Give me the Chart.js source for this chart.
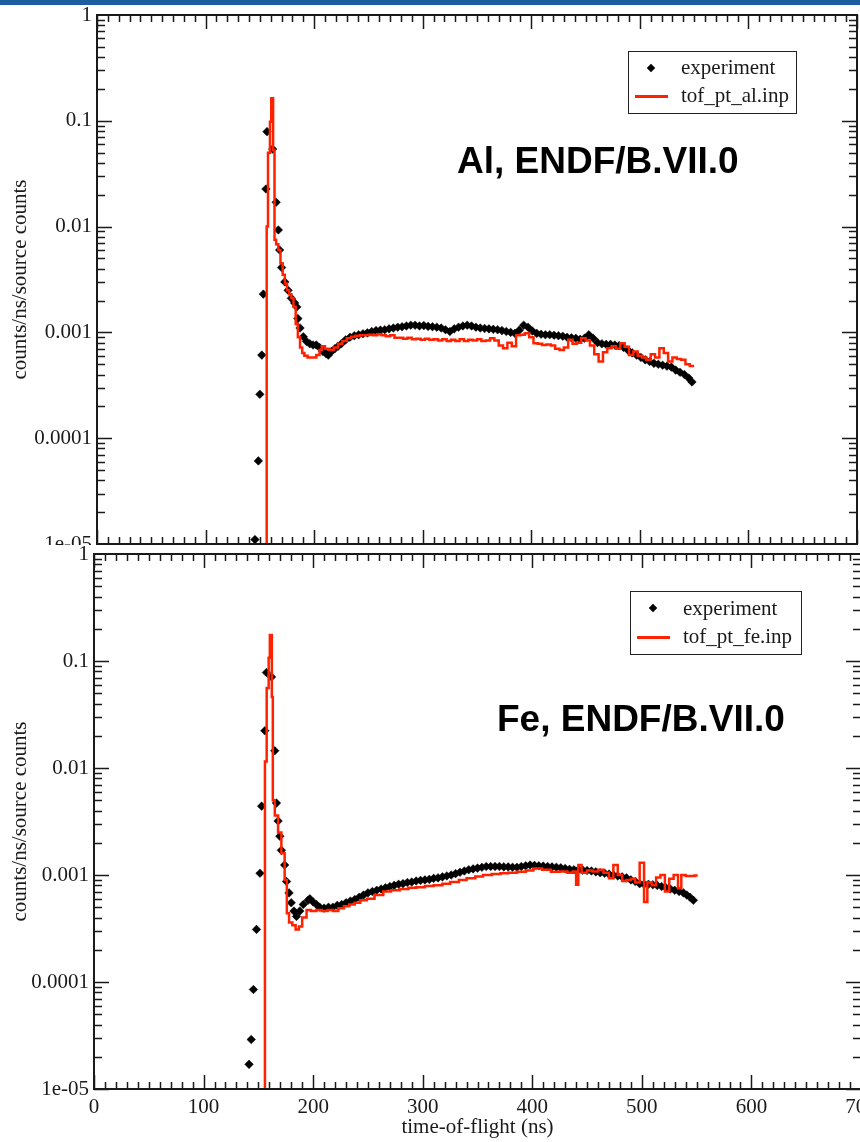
<!DOCTYPE html>
<html>
<head>
<meta charset="utf-8">
<script src="https://cdn.jsdelivr.net/npm/chart.js@4.4.0/dist/chart.umd.min.js"></script>
<style>
  body { margin: 0; width: 860px; height: 1142px; overflow: hidden; background: #fff; position: relative; }
  canvas { position: absolute; left: 0; }
  #c1 { top: 0; }
  #c2 { top: 545px; background: #fff; }
  .bar { position: absolute; left: 0; top: 0; width: 860px; height: 5px; background: #1a5e9e; z-index: 5; }
  .box { position: absolute; border: 1.5px solid #222; box-sizing: border-box; z-index: 5; }
  .txt { position: absolute; font: 21px/21px "Liberation Serif", "DejaVu Serif", serif; color: #1a1a1a; white-space: nowrap; z-index: 6; }
  .dia { position: absolute; width: 6px; height: 6px; background: #000; transform: rotate(45deg); z-index: 6; }
  .red { position: absolute; width: 33px; height: 2.5px; background: #ff2200; z-index: 6; }
  .note { position: absolute; font: bold 37px/37px "Liberation Sans", Arial, sans-serif; color: #000; white-space: nowrap; z-index: 6; }
</style>
</head>
<body>
<div class="bar"></div>
<canvas id="c1" width="860" height="560"></canvas>
<canvas id="c2" width="870" height="597"></canvas>

<div class="box" style="left:628px;top:51px;width:169px;height:63px"></div>
<div class="dia" style="left:648px;top:65px"></div>
<div class="txt" style="left:681px;top:57px">experiment</div>
<div class="red" style="left:635px;top:95px"></div>
<div class="txt" style="left:681px;top:85px">tof_pt_al.inp</div>
<div class="note" style="left:457px;top:142px">Al, ENDF/B.VII.0</div>

<div class="box" style="left:630px;top:591px;width:172px;height:64px"></div>
<div class="dia" style="left:650px;top:605px"></div>
<div class="txt" style="left:683px;top:598px">experiment</div>
<div class="red" style="left:637px;top:636px"></div>
<div class="txt" style="left:683px;top:626px">tof_pt_fe.inp</div>
<div class="note" style="left:497px;top:700px">Fe, ENDF/B.VII.0</div>

<script>
// axis ticks
const xTicks = [0, 100, 200, 300, 400, 500, 600, 700];
const yTicks = [1e-5, 1e-4, 1e-3, 1e-2, 1e-1, 1];
const yTickLabels = ['1e-05', '0.0001', '0.001', '0.01', '0.1', '1'];

// Al: measured [tof ns, counts/ns/source]
const alExp = [
  [145.5,1.1e-5],[148.6,6.1e-5],[150,2.6e-4],[151.8,6.1e-4],[153.2,2.3e-3],[155.6,0.0227],[156.6,0.079],
  [161.8,0.054],[165,0.017],[167,0.0093],[168.2,0.006],[170,0.0041],[173,0.003],[176,0.0025],[179,0.0021],
  [182,0.0019],[184,0.00174],[185,0.00135],[187,0.0011],[190,0.00091],[193,0.00082],[196,0.00078],[199,0.00076],
  [202,0.00076],[205,0.00072],[208,0.00066],[211,0.00063],[213,0.00061],[216,0.00066],[219,0.0007],[222,0.00074],
  [225,0.00078],[229,0.00085],[233,0.0009],[237,0.00093],[241,0.00095],[245,0.00097],[249,0.00099],[253,0.00102],
  [257,0.00104],[261,0.00105],[265,0.00106],[269,0.00108],[273,0.0011],[277,0.00112],[281,0.00113],[285,0.00115],
  [289,0.00117],[293,0.00117],[297,0.00115],[301,0.00116],[305,0.00114],[309,0.00113],[313,0.00112],[317,0.0011],
  [321,0.00106],[325,0.00102],[329,0.00108],[333,0.00112],[337,0.00115],[341,0.00117],[345,0.00115],[349,0.00112],
  [353,0.0011],[357,0.00109],[361,0.00108],[365,0.00107],[369,0.00106],[373,0.00104],[377,0.00102],[381,0.001],
  [385,0.00098],[389,0.00105],[393,0.00117],[397,0.00112],[401,0.00103],[405,0.00098],[409,0.00096],[413,0.00095],
  [417,0.00095],[421,0.00094],[425,0.00093],[429,0.00092],[433,0.0009],[437,0.00089],[441,0.00088],[445,0.00086],
  [449,0.00088],[453,0.00095],[457,0.00088],[461,0.0008],[465,0.00078],[469,0.00077],[473,0.00077],[477,0.00076],
  [481,0.00075],[485,0.00072],[489,0.00068],[493,0.00064],[497,0.00061],[501,0.00058],[505,0.00055],[509,0.00053],
  [513,0.00051],[517,0.0005],[521,0.00049],[525,0.00048],[529,0.00047],[533,0.00044],[537,0.00042],[541,0.0004],
  [545,0.00037],[548,0.00034]
];
// Al: tof_pt_al.inp histogram (bin start, value)
const alMod = [
  [156.1,1e-8],[156.3,0.01],[157.5,0.05],[159.3,0.098],[160.5,0.163],[162.2,0.053],[163.5,0.0075],[165,0.0068],
  [167,0.006],[169,0.0045],[171,0.0035],[173,0.0029],[175,0.0025],[177,0.0023],[179,0.0021],[181,0.00175],
  [183,0.0012],[185,0.0009],[187,0.00072],[189,0.00064],[191,0.0006],[194,0.00058],[198,0.00058],[202,0.00061],
  [205,0.00068],[207,0.00074],[210,0.0007],[214,0.00068],[218,0.00072],[222,0.00078],[226,0.00083],[230,0.00088],
  [234,0.00091],[238,0.00093],[242,0.00094],[246,0.00094],[250,0.00095],[254,0.00094],[258,0.00096],[262,0.00094],
  [266,0.00092],[270,0.00094],[274,0.00089],[278,0.00089],[282,0.00087],[286,0.00089],[290,0.00086],[294,0.00087],
  [298,0.00085],[302,0.00087],[306,0.00085],[310,0.00086],[314,0.00084],[318,0.00086],[322,0.00083],[326,0.00085],
  [330,0.00083],[334,0.00086],[338,0.00083],[342,0.00085],[346,0.00084],[350,0.00086],[354,0.00083],[358,0.00084],
  [362,0.00088],[366,0.00084],[370,0.00075],[374,0.00071],[378,0.0008],[382,0.00074],[386,0.00094],[390,0.00095],
  [394,0.00098],[398,0.0009],[402,0.00079],[406,0.00078],[410,0.00076],[414,0.00077],[418,0.00075],[422,0.0007],
  [426,0.00068],[430,0.00072],[434,0.00085],[438,0.00078],[442,0.0008],[446,0.00088],[450,0.00084],[454,0.00075],
  [458,0.00062],[462,0.00053],[466,0.00065],[470,0.00071],[474,0.00074],[478,0.0007],[482,0.00079],[486,0.00073],
  [490,0.00061],[494,0.00066],[498,0.0006],[502,0.00058],[506,0.00055],[510,0.00062],[514,0.00058],[518,0.00071],
  [522,0.00064],[526,0.00053],[530,0.00058],[534,0.00056],[538,0.00055],[542,0.0005],[546,0.00048],[550,0.00048]
];
// Fe: measured
const feExp = [
  [141.5,1.7e-5],[143.5,2.9e-5],[145.5,8.5e-5],[148.3,3.1e-4],[151.5,1.04e-3],[153,4.4e-3],[155.9,0.0223],
  [157.4,0.078],[162,0.071],[165,0.0145],[166.5,0.0047],[168,0.0032],[169.6,0.0023],[171,0.0017],[174,0.00124],
  [175.7,0.00087],[178,0.00068],[180,0.00055],[182.5,0.00046],[184.8,0.00041],[187.8,0.00046],[191,0.00053],
  [195.4,0.00058],[197,0.0006],[200,0.00056],[203,0.00053],[206,0.0005],[210,0.00049],[214,0.0005],[218,0.0005],
  [222,0.00052],[226,0.00053],[230,0.00055],[234,0.00057],[238,0.00059],[242,0.00062],[246,0.00065],[250,0.00068],
  [254,0.0007],[258,0.00072],[262,0.00074],[266,0.00076],[270,0.00078],[274,0.0008],[278,0.00082],[282,0.00083],
  [286,0.00085],[290,0.00086],[294,0.00088],[298,0.00089],[302,0.0009],[306,0.00091],[310,0.00093],[314,0.00094],
  [318,0.00096],[322,0.00098],[326,0.001],[330,0.00103],[334,0.00106],[338,0.00109],[342,0.00112],[346,0.00114],
  [350,0.00116],[354,0.00118],[358,0.0012],[362,0.0012],[366,0.0012],[370,0.0012],[374,0.00119],[378,0.00119],
  [382,0.00118],[386,0.00118],[390,0.0012],[394,0.00122],[398,0.00124],[402,0.00123],[406,0.00122],[410,0.00121],
  [414,0.0012],[418,0.00119],[422,0.00118],[426,0.00117],[430,0.00115],[434,0.00113],[438,0.00112],[442,0.00112],
  [446,0.00111],[450,0.0011],[454,0.00109],[458,0.00107],[462,0.00105],[466,0.00104],[470,0.00102],[474,0.001],
  [478,0.00098],[482,0.00096],[486,0.00094],[490,0.0009],[494,0.00087],[498,0.00083],[502,0.00082],[506,0.00082],
  [510,0.00081],[514,0.0008],[518,0.00078],[522,0.00076],[526,0.00074],[530,0.00072],[534,0.0007],[538,0.00068],
  [541,0.00065],[544,0.00062],[547,0.00058]
];
// Fe: tof_pt_fe.inp histogram
const feMod = [
  [155.8,1e-8],[156,0.0115],[157.6,0.056],[159.4,0.107],[160.5,0.175],[162.3,0.046],[163.2,0.005],[165,0.0036],
  [168,0.0025],[171,0.0016],[174,0.0009],[176,0.00044],[178,0.00036],[181,0.00034],[184,0.00031],[187,0.00033],
  [190,0.0004],[194,0.00047],[198,0.00046],[203,0.00047],[208,0.00046],[213,0.00047],[218,0.00046],[223,0.00049],
  [228,0.00051],[233,0.00053],[238,0.00055],[243,0.00058],[249,0.0006],[256,0.00065],[264,0.0007],[271,0.00072],
  [279,0.00074],[287,0.00076],[294,0.00077],[302,0.00079],[310,0.0008],[318,0.00083],[325,0.00086],[333,0.0009],
  [340,0.00093],[348,0.00097],[355,0.001],[363,0.00102],[371,0.00104],[378,0.00105],[386,0.00107],[394,0.0011],
  [401,0.00115],[409,0.00112],[417,0.00107],[425,0.00108],[432,0.00105],[437,0.00108],[440,0.00081],[442,0.00124],
  [445,0.00105],[450,0.0011],[455,0.00108],[460,0.00112],[465,0.00105],[470,0.00093],[474,0.00124],[478,0.001],
  [482,0.00088],[486,0.0009],[490,0.00092],[494,0.00085],[498,0.0013],[502,0.00056],[505,0.00085],[509,0.0008],
  [513,0.00095],[517,0.001],[521,0.0007],[525,0.00092],[529,0.001],[533,0.00075],[536,0.001],[540,0.00098],
  [544,0.00098],[548,0.00099],[551,0.00099]
];

const serif = { family: '"Liberation Serif", "DejaVu Serif", serif', size: 21 };
const ink = '#1a1a1a';

// frame with inward major/minor ticks on all four sides
const frameTicks = {
  id: 'frameTicks',
  afterDatasetsDraw(chart) {
    const { ctx, chartArea: a, scales: { x, y } } = chart;
    ctx.save();
    ctx.strokeStyle = ink;
    ctx.lineWidth = 1.5;
    ctx.beginPath();
    for (let t = 0; t <= 700; t += 10) {
      const px = Math.round(x.getPixelForValue(t)) + 0.5;
      const len = t % 100 === 0 ? 14 : 7;
      ctx.moveTo(px, a.bottom); ctx.lineTo(px, a.bottom - len);
      ctx.moveTo(px, a.top); ctx.lineTo(px, a.top + len);
    }
    for (let d = -5; d < 0; d++) {
      for (let m = 1; m < 10; m++) {
        const py = Math.round(y.getPixelForValue(m * Math.pow(10, d))) + 0.5;
        const len = m === 1 ? 15 : 8;
        ctx.moveTo(a.left, py); ctx.lineTo(a.left + len, py);
        ctx.moveTo(a.right, py); ctx.lineTo(a.right - len, py);
      }
    }
    ctx.stroke();
    ctx.lineWidth = 2;
    ctx.strokeRect(a.left, a.top, a.right - a.left, a.bottom - a.top);
    ctx.restore();
  }
};

function pts(arr) { return arr.map(p => ({ x: p[0], y: p[1] })); }

function makeChart(id, exp, mod, opts) {
  return new Chart(document.getElementById(id), {
    type: 'scatter',
    data: {
      datasets: [
        { label: opts.model, data: pts(mod), showLine: true, stepped: true,
          borderColor: '#ff2200', borderWidth: 2.5, pointRadius: 0, order: 0 },
        { label: 'experiment', data: pts(exp), pointStyle: 'rectRot', pointRadius: 4.3,
          backgroundColor: '#000', borderColor: '#000', borderWidth: 0.5, order: 1 }
      ]
    },
    options: {
      responsive: false,
      animation: false,
      events: [],
      layout: { autoPadding: false, padding: opts.pad },
      plugins: { legend: { display: false }, tooltip: { enabled: false } },
      scales: {
        x: {
          type: 'linear', min: 0, max: 700, display: opts.showX,
          afterBuildTicks: s => { s.ticks = xTicks.map(v => ({ value: v })); },
          afterFit: s => { s.height = opts.showX ? 53 : 0; s.paddingLeft = 0; s.paddingRight = 0; },
          ticks: { font: serif, color: ink, padding: 6, maxRotation: 0, autoSkip: false },
          grid: { display: false, drawTicks: false },
          border: { display: false },
          title: { display: true, text: 'time-of-flight (ns)', font: serif, color: ink,
                   padding: { top: 0, bottom: 2 } }
        },
        y: {
          type: 'logarithmic', min: 1e-5, max: 1,
          afterBuildTicks: s => { s.ticks = yTicks.map(v => ({ value: v })); },
          afterFit: s => { s.width = opts.yw; s.paddingTop = 0; s.paddingBottom = 0; },
          ticks: { font: serif, color: ink, padding: 5, autoSkip: false,
                   callback: (v, i) => yTickLabels[i] },
          grid: { display: false, drawTicks: false },
          border: { display: false },
          title: { display: true, text: 'counts/ns/source counts', font: serif, color: ink,
                   padding: { top: 8, bottom: 0 } }
        }
      }
    },
    plugins: [frameTicks]
  });
}

makeChart('c1', alExp, alMod, { model: 'tof_pt_al.inp', showX: false, yw: 97,
  pad: { left: 0, right: 3, top: 15, bottom: 16 } });
makeChart('c2', feExp, feMod, { model: 'tof_pt_fe.inp', showX: true, yw: 94,
  pad: { left: 0, right: 9, top: 9, bottom: 0 } });
</script>
</body>
</html>
